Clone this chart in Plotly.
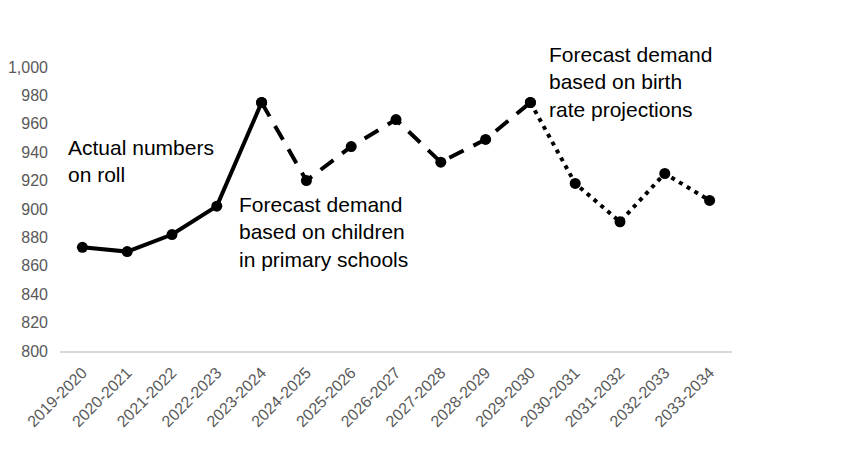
import plotly.graph_objects as go

# Pupil numbers by academic year
years = ["2019-2020", "2020-2021", "2021-2022", "2022-2023", "2023-2024",
         "2024-2025", "2025-2026", "2026-2027", "2027-2028", "2028-2029",
         "2029-2030", "2030-2031", "2031-2032", "2032-2033", "2033-2034"]
numbers = [873, 870, 882, 902, 975, 920, 944, 963, 933, 949, 975, 918, 891, 925, 906]

# segments: actual / forecast (primary) / forecast (birth rate)
actual_end = 4
primary_end = 10

y_ticks = [800, 820, 840, 860, 880, 900, 920, 940, 960, 980, 1000]

fig = go.Figure()

segments = [
    (0, actual_end, "solid"),
    (actual_end, primary_end, "16px,11px"),
    (primary_end, len(years) - 1, "4px,5px"),
]
for start, end, dash in segments:
    fig.add_trace(go.Scatter(
        x=years[start:end + 1],
        y=numbers[start:end + 1],
        mode="lines+markers",
        line=dict(color="black", width=4, dash=dash),
        marker=dict(color="black", size=11),
        showlegend=False,
        cliponaxis=False,
    ))

# Text labels ---------------------------------------------------------------
label_font = dict(family="Liberation Sans, Arial, sans-serif", size=21, color="black")
fig.add_annotation(text="Actual numbers<br>on roll", x=-0.36, y=953,
                   xref="x", yref="y", xanchor="left", yanchor="top",
                   align="left", showarrow=False, font=label_font)
fig.add_annotation(text="Forecast demand<br>based on children<br>in primary schools",
                   x=3.44, y=913, xref="x", yref="y", xanchor="left", yanchor="top",
                   align="left", showarrow=False, font=label_font)
fig.add_annotation(text="Forecast demand<br>based on birth<br>rate projections",
                   x=10.38, y=1.09, xref="x", yref="paper", xanchor="left", yanchor="top",
                   align="left", showarrow=False, font=label_font)

# page body adds 8px offset, so margins are shifted to compensate
fig.update_layout(
    width=850, height=450,
    margin=dict(l=52, r=126, t=59, b=107),
    plot_bgcolor="white",
    paper_bgcolor="white",
    font=dict(family="Liberation Sans, Arial, sans-serif", size=16, color="#595959"),
)

fig.update_xaxes(
    type="category",
    range=[-0.5, len(years) - 0.5],
    tickangle=-45,
    automargin=False,
    showgrid=False,
    showline=True, linecolor="#d9d9d9", linewidth=2,
    ticks="",
    ticklabelstandoff=4,
    tickfont=dict(size=16, color="#595959"),
)
fig.update_yaxes(
    range=[800, 1000],
    tickvals=y_ticks,
    tickformat=",d",
    automargin=False,
    showgrid=False,
    zeroline=False,
    showline=False,
    ticks="",
    ticklabelstandoff=11,
    tickfont=dict(size=16, color="#595959"),
)

fig.write_html("out.html")
